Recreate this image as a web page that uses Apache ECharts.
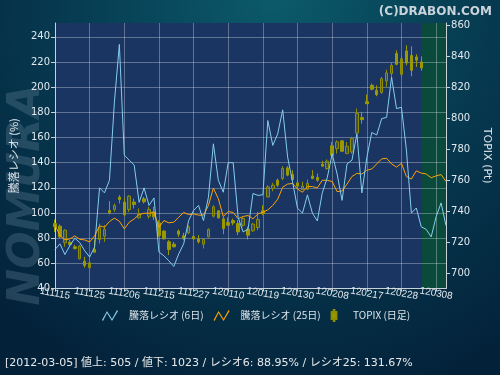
<!DOCTYPE html>
<html>
<head>
  <meta charset="utf-8">
  <title>騰落レシオ</title>
  <script src="https://cdn.jsdelivr.net/npm/echarts@6/dist/echarts.min.js"></script>
  <style>
    html, body { margin: 0; padding: 0; }
    #main { width: 500px; height: 375px; }
  </style>
</head>
<body>
  <div id="main"></div>
  <script type="text/javascript">
    // 日付 (営業日)
    var dates = ['111115','111116','111117','111118','111121','111122','111124','111125','111128','111129','111130',
      '111201','111202','111205','111206','111207','111208','111209','111212','111213','111214','111215','111216',
      '111219','111220','111221','111222','111226','111227','111228','111229','111230',
      '120104','120105','120106','120110','120111','120112','120113','120116','120117','120118','120119','120120',
      '120123','120124','120125','120126','120127','120130','120131',
      '120201','120202','120203','120206','120207','120208','120209','120210','120213','120214','120215','120216',
      '120217','120220','120221','120222','120223','120224','120227','120228','120229',
      '120301','120302','120305','120306','120307','120308','120309','120312'];

    // 騰落レシオ (6日)
    var ratio6 = [71, 75.5, 67, 74, 80, 76.5, 70, 65, 73, 120, 116, 126, 188, 234, 146, 142, 138, 108.5, 120, 106,
      112, 69, 66, 62, 57.5, 67.5, 75.5, 94, 102, 106, 94, 112.5, 155, 126, 116.5, 140, 140, 96.5, 85, 87,
      115.5, 114, 114.5, 173.5, 153.7, 163, 182, 144.4, 124.6, 103.8, 99.9, 114.4, 99.9, 93.7, 116, 128, 147, 131, 110, 139,
      142, 163, 116, 144, 164, 162, 175, 176, 208, 183, 184, 150, 100, 104, 89, 87, 81, 97, 108, 90];

    // 騰落レシオ (25日)
    var ratio25 = [90.6, 82, 78.7, 79.4, 81.8, 79.1, 78.6, 77, 81.8, 89.8, 88.7, 93.2, 95.9, 93.5, 87.4, 92.7, 95.3, 98.8, 99.8, 99.8,
      100.6, 88.7, 94, 92.2, 92.7, 96.7, 100.4, 98.8, 99.3, 98.3, 98.3, 106, 119.8, 111.3, 97.2, 101.2, 100.4, 95.5, 97.2, 98,
      95.4, 99.3, 100.6, 102.5, 106, 111, 120.5, 123, 123.5, 119, 116.5, 121, 121, 120, 126, 126, 125, 117, 117.5, 123,
      129, 131.5, 131, 134, 135, 139, 143, 143.5, 139, 136.5, 139.5, 129, 127, 133.5, 131.7, 131, 128, 129.5, 130.5, 125];

    // TOPIX 日足 [始値, 終値, 安値, 高値]
    var topix = [
      [732.2, 730.1, 726.8, 734.8], [730.5, 723.6, 722.6, 731.6], [719.8, 727.9, 717.2, 728.4], [720.1, 718.7, 717.2, 721.5],
      [717.2, 716.0, 715.6, 718.5], [709.5, 717.6, 709.0, 718.3], [707.9, 705.2, 703.7, 710.7], [703.7, 706.9, 703.7, 710.7],
      [715.5, 713.7, 713.3, 721.9], [721.9, 729.4, 719.3, 732.2], [724.0, 728.4, 720.4, 731.1], [740.6, 739.1, 738.0, 746.6],
      [741.2, 743.8, 739.7, 745.1], [749.2, 747.7, 745.1, 750.5], [746.0, 737.8, 736.9, 748.8], [741.2, 749.8, 739.7, 750.5],
      [746.0, 744.5, 741.9, 748.3], [735.9, 738.4, 735.4, 741.9], [748.1, 746.2, 745.1, 749.4], [736.9, 741.2, 735.4, 743.0],
      [739.7, 736.5, 734.4, 743.0], [732.6, 724.5, 723.6, 734.4], [727.3, 722.3, 721.9, 727.9], [720.4, 715.5, 711.8, 721.5],
      [718.9, 717.2, 716.8, 720.4], [727.3, 725.3, 723.6, 728.4], [724.3, 722.6, 721.5, 726.2], [726.2, 730.1, 725.3, 730.9],
      [723.8, 722.3, 721.5, 724.9], [722.3, 720.4, 719.3, 724.7], [718.9, 721.9, 716.1, 722.6], [723.6, 728.4, 723.2, 729.0],
      [736.9, 743.0, 736.1, 744.0], [740.4, 735.9, 735.4, 740.8], [735.2, 729.0, 725.3, 736.5], [732.9, 731.1, 730.7, 736.1],
      [734.1, 732.6, 731.1, 735.4], [732.2, 726.8, 724.7, 734.4], [731.1, 735.4, 730.1, 736.5], [728.6, 724.7, 721.9, 730.1],
      [727.5, 731.8, 726.8, 732.6], [729.6, 734.8, 727.9, 739.7], [740.4, 738.7, 737.6, 744.0], [749.4, 755.8, 749.0, 756.9],
      [754.8, 756.9, 753.0, 758.4], [760.1, 756.9, 755.8, 761.2], [761.2, 767.7, 760.1, 769.2], [768.1, 763.4, 762.7, 769.2],
      [763.8, 760.6, 760.1, 766.6], [758.4, 756.3, 754.8, 760.1], [754.1, 756.3, 753.7, 759.1], [754.3, 758.0, 753.7, 760.6],
      [762.9, 761.2, 760.8, 766.6], [761.9, 760.1, 759.1, 764.4], [770.4, 769.2, 768.7, 772.6], [767.7, 772.4, 767.0, 773.5],
      [782.3, 776.2, 775.6, 784.8], [780.5, 784.8, 777.3, 785.9], [785.5, 778.8, 778.4, 785.9], [777.3, 782.0, 776.9, 784.8],
      [778.4, 787.0, 777.3, 788.1], [790.6, 803.1, 790.2, 806.3], [800.5, 799.2, 796.6, 804.2], [810.8, 809.5, 809.1, 815.3],
      [821.3, 818.8, 818.1, 822.4], [818.1, 815.3, 814.3, 821.3], [816.6, 825.6, 816.0, 826.7], [824.1, 829.3, 820.3, 831.4],
      [828.9, 834.2, 826.7, 835.7], [841.8, 834.9, 834.2, 843.9], [828.4, 838.5, 826.1, 840.7], [843.5, 835.7, 834.2, 847.1],
      [840.5, 831.0, 827.1, 846.5], [839.6, 837.5, 833.2, 841.3], [836.4, 832.5, 830.6, 840.0]
    ];

    var leftTicks = [40, 60, 80, 100, 120, 140, 160, 180, 200, 220, 240];
    var rightTicks = [700, 720, 740, 760, 780, 800, 820, 840, 860];
    var lastDay = '120305';
    var statusText = '[2012-03-05] 値上: 505 / 値下: 1023 / レシオ6: 88.95% / レシオ25: 131.67%';

    var myChart = echarts.init(document.getElementById('main'));

    var labelColor = '#e2e8ee';
    var every7 = function (idx) { return idx % 7 === 0; };

    var option = {
      animation: false,
      backgroundColor: {
        type: 'radial', x: 0.55, y: 0, r: 1.1,
        colorStops: [
          { offset: 0, color: '#0b5a6a' },
          { offset: 0.55, color: '#06384f' },
          { offset: 1, color: '#03223a' }
        ]
      },
      title: {
        text: '(C)DRABON.COM',
        right: 3, top: 1,
        textStyle: { color: '#c9d3da', fontSize: 12, fontWeight: 'bold', fontFamily: 'DejaVu Sans' }
      },
      legend: {
        left: 97, top: 304,
        itemWidth: 16, itemHeight: 11, itemGap: 10,
        textStyle: { color: '#dde4ea', fontSize: 10, fontFamily: 'Noto Sans CJK JP', padding: [0, 0, 0, 6] },
        data: [
          { name: '騰落レシオ (6日)', icon: 'path://M0,10 L5,1 L10,9 L15,0 L16,1 L10,11 L5,3 L1,11 Z' },
          { name: '騰落レシオ (25日)', icon: 'path://M0,10 L5,1 L10,9 L15,0 L16,1 L10,11 L5,3 L1,11 Z' },
          { name: 'TOPIX (日足)', icon: 'path://M3,0 L4,0 L4,3 L7,3 L7,13 L4,13 L4,16 L3,16 L3,13 L0,13 L0,3 L3,3 Z',
            itemStyle: { color: '#9a9a00' } }
        ]
      },
      grid: { left: 55, right: 53, top: 23, bottom: 86.5 },
      xAxis: {
        type: 'category',
        data: dates,
        boundaryGap: false,
        axisLine: { lineStyle: { color: '#c8d0d8' } },
        axisTick: { show: true, length: 3, interval: every7, lineStyle: { color: '#c8d0d8' } },
        axisLabel: {
          interval: every7, rotate: -10, align: 'center', margin: 5,
          showMinLabel: true, showMaxLabel: true, hideOverlap: false,
          color: labelColor, fontSize: 10, fontFamily: 'Liberation Sans'
        },
        splitLine: { show: true, interval: every7, lineStyle: { color: 'rgba(255,255,255,0.3)' } }
      },
      yAxis: [
        {
          type: 'value', position: 'left', min: 40, max: 251, interval: 20,
          name: '騰落レシオ (%)', nameLocation: 'middle', nameGap: 36, nameRotate: 90,
          nameTextStyle: { color: '#dde4ea', fontSize: 11, fontFamily: 'Noto Sans CJK JP' },
          axisLine: { show: true, lineStyle: { color: '#c8d0d8' } },
          axisTick: { show: true, length: 4, customValues: leftTicks, lineStyle: { color: '#c8d0d8' } },
          axisLabel: { customValues: leftTicks, color: labelColor, fontSize: 10, fontFamily: 'DejaVu Sans', margin: 5 },
          splitLine: { show: true, lineStyle: { color: 'rgba(255,255,255,0.3)' } }
        },
        {
          type: 'value', position: 'right', min: 690.3, max: 861.5,
          name: 'TOPIX (Pt)', nameLocation: 'middle', nameGap: 33, nameRotate: -90,
          nameTextStyle: { color: '#dde4ea', fontSize: 11, fontFamily: 'DejaVu Sans' },
          axisLine: { show: true, lineStyle: { color: '#c8d0d8' } },
          axisTick: { show: true, length: 4, customValues: rightTicks, lineStyle: { color: '#c8d0d8' } },
          axisLabel: { customValues: rightTicks, color: labelColor, fontSize: 10, fontFamily: 'DejaVu Sans', margin: 5 },
          splitLine: { show: false }
        }
      ],
      graphic: [
        {
          type: 'text', left: 6, top: 84, rotation: Math.PI / 2, z: 0,
          style: { text: 'NOMURA', fill: 'rgba(110,140,160,0.3)', font: 'italic bold 44px "DejaVu Sans"' }
        },
        {
          type: 'text', left: 5, top: 358,
          style: { text: statusText, fill: '#e6e9ec', font: '11px "DejaVu Sans", "Noto Sans CJK JP"' }
        }
      ],
      series: [
        {
          type: 'line', data: [], z: -1, silent: true,
          markArea: {
            silent: true, z: -1,
            data: [
              [{ xAxis: dates[0], itemStyle: { color: '#1b3562' } }, { xAxis: lastDay }],
              [{ xAxis: lastDay, itemStyle: { color: '#0a4a3c' } }, { xAxis: dates[dates.length - 1] }]
            ]
          }
        },
        {
          name: 'TOPIX (日足)', type: 'candlestick', yAxisIndex: 1, data: topix,
          barWidth: 3,
          itemStyle: {
            color: 'rgba(150,150,20,0.3)', color0: '#9a9a00',
            borderColor: '#8e8e00', borderColor0: '#9a9a00', borderWidth: 1
          }
        },
        {
          name: '騰落レシオ (25日)', type: 'line', yAxisIndex: 0, data: ratio25,
          showSymbol: false, lineStyle: { width: 1, color: '#ffa200' }, itemStyle: { color: '#ffa200' }
        },
        {
          name: '騰落レシオ (6日)', type: 'line', yAxisIndex: 0, data: ratio6,
          showSymbol: false, lineStyle: { width: 1, color: '#84cdee' }, itemStyle: { color: '#84cdee' }
        }
      ]
    };

    myChart.setOption(option);
  </script>
</body>
</html>
